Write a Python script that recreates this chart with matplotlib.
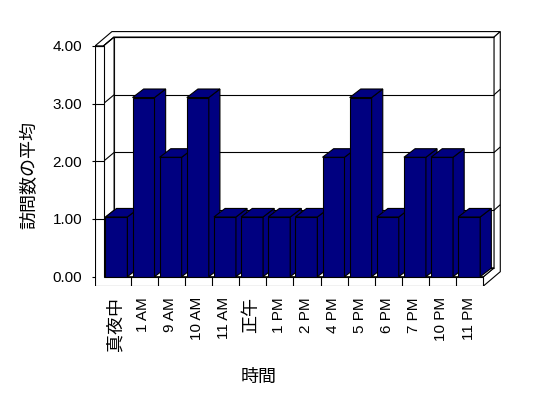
#!/usr/bin/env python3

import matplotlib
matplotlib.use("Agg")
import matplotlib.pyplot as plt
from matplotlib.patches import Polygon

plt.rcParams['font.family'] = ['Liberation Sans', 'Noto Sans CJK JP']

hours = ["真夜中", "1 AM", "9 AM", "10 AM", "11 AM", "正午", "1 PM",
         "2 PM", "4 PM", "5 PM", "6 PM", "7 PM", "10 PM", "11 PM"]
avg_visits = [1, 3, 2, 3, 1, 1, 1, 1, 2, 3, 1, 2, 2, 1]
y_ticks = [0, 1, 2, 3, 4]
y_tick_labels = ["0.00", "1.00", "2.00", "3.00", "4.00"]
x_title = "時間"
y_title = "訪問数の平均"

NAVY = "#000080"
LW = 0.8

# fake 3d box, everything in data units
DX, DY = 0.39, 0.153        # floor depth
TX, TY = 0.23, 0.095        # back wall thickness
WALL_T = 0.31               # left wall thickness
FLOOR_T = 0.161
BAR_OFF, BAR_W = 0.07, 0.81
BAR_DX, BAR_DY = 0.41, 0.148
BAR_SCALE = 1.035           # excel draws the columns a bit taller than the axis
VMAX = y_ticks[-1]

# pixel mapping of the reference
X0_PX, PX_PER_CAT = 103.5, 27.14
Y0_PX, PX_PER_VAL = 276.7, 57.7
W_PX, H_PX = 548, 398

n = len(hours)
x_lo, x_hi = -WALL_T, 15.2
y_lo, y_hi = -FLOOR_T, 4.45

fig = plt.figure(figsize=(W_PX / 100, H_PX / 100), dpi=100)
left = (X0_PX + x_lo * PX_PER_CAT) / W_PX
right = (X0_PX + x_hi * PX_PER_CAT) / W_PX
top = 1 - (Y0_PX - y_hi * PX_PER_VAL) / H_PX
bottom = 1 - (Y0_PX - y_lo * PX_PER_VAL) / H_PX
ax = fig.add_axes([left, bottom, right - left, top - bottom])
ax.set_xlim(x_lo, x_hi)
ax.set_ylim(y_lo, y_hi)
for s in ax.spines.values():
    s.set_visible(False)


def face(pts, fc="white", z=1):
    ax.add_patch(Polygon(pts, closed=True, facecolor=fc, edgecolor="black",
                         linewidth=LW, joinstyle="miter", zorder=z))


def seg(x, y, z=1.5):
    ax.plot(x, y, color="black", linewidth=LW, zorder=z, solid_capstyle="butt")


# back wall, front face with gridlines
face([(DX, DY), (n + DX, DY), (n + DX, VMAX + DY), (DX, VMAX + DY)])
for v in y_ticks:
    seg([DX, n + DX], [v + DY, v + DY])
# top of back wall + left wall
face([(-WALL_T, VMAX), (0, VMAX), (DX, VMAX + DY), (n + DX, VMAX + DY),
      (n + DX + TX, VMAX + DY + TY), (-WALL_T + DX + TX, VMAX + DY + TY)])
# right side of floor + back wall
face([(n, -FLOOR_T), (n, 0), (n + DX, DY), (n + DX, VMAX + DY),
      (n + DX + TX, VMAX + DY + TY), (n + DX + TX, -FLOOR_T + DY + TY)])
for v in y_ticks[1:-1]:
    seg([n + DX, n + DX + TX], [v + DY, v + DY + TY])
# inner face of left wall
face([(0, 0), (0, VMAX), (DX, VMAX + DY), (DX, DY)])
for v in y_ticks:
    seg([0, DX], [v, v + DY])
# floor top
face([(0, 0), (n, 0), (n + DX, DY), (DX, DY)])

# columns
for i, val in enumerate(avg_visits):
    x0 = i + BAR_OFF
    x1 = x0 + BAR_W
    h = val * BAR_SCALE
    face([(x0, 0), (x1, 0), (x1, h), (x0, h)], NAVY, 3)
    face([(x1, 0), (x1 + BAR_DX, BAR_DY), (x1 + BAR_DX, h + BAR_DY), (x1, h)], NAVY, 3)
    face([(x0, h), (x1, h), (x1 + BAR_DX, h + BAR_DY), (x0 + BAR_DX, h + BAR_DY)], NAVY, 3)

# front face: left wall + floor edge
face([(-WALL_T, -FLOOR_T), (n, -FLOOR_T), (n, 0), (0, 0), (0, VMAX), (-WALL_T, VMAX)], z=4)
for v in y_ticks[1:]:
    seg([-WALL_T, 0], [v, v], z=4.5)
for i in range(1, n):
    seg([i, i], [-FLOOR_T, 0], z=4.5)

ax.set_yticks(y_ticks)
ax.set_yticklabels(y_tick_labels)
ax.tick_params(axis="y", direction="out", length=2.2, width=LW, pad=7, labelsize=11)
ax.set_xticks([i + 0.45 for i in range(n)])
ax.set_xticklabels(hours, rotation=90, va="top", ha="center")
ax.tick_params(axis="x", length=0, pad=8, labelsize=11)
for lbl in ax.get_xticklabels():
    if not lbl.get_text().isascii():
        lbl.set_fontsize(13)

ax.set_xlabel(x_title, fontsize=13, va="center")
ax.xaxis.set_label_coords(259 / W_PX, 1 - 377 / H_PX, transform=fig.transFigure)
ax.set_ylabel(y_title, fontsize=13, va="center")
ax.yaxis.set_label_coords(30 / W_PX, 1 - 175 / H_PX, transform=fig.transFigure)

fig.savefig("out.png", dpi=100)
